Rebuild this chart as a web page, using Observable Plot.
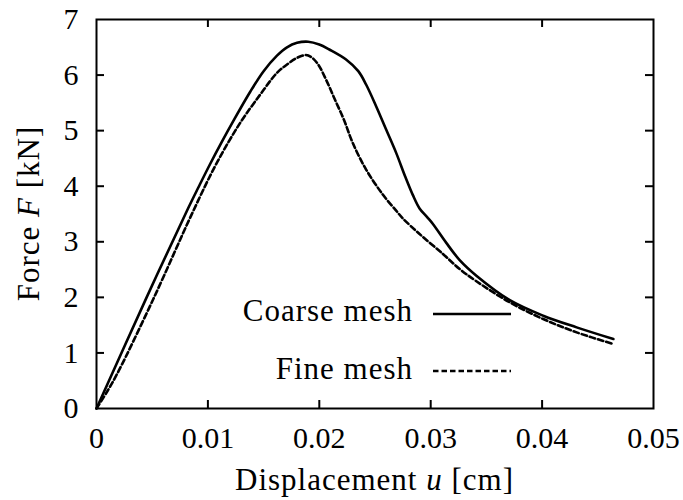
<!DOCTYPE html>
<html>
<head>
<meta charset="utf-8">
<script src="https://cdn.jsdelivr.net/npm/d3@7"></script>
<script src="https://cdn.jsdelivr.net/npm/@observablehq/plot@0.6"></script>
<style>
  body { margin: 0; background: #fff; }
  #chart { position: relative; width: 683px; height: 500px; }
</style>
</head>
<body>
<div id="chart"></div>
<script>
// ---- data ----
const xTicks = [0, 0.01, 0.02, 0.03, 0.04, 0.05];
const yTicks = [0, 1, 2, 3, 4, 5, 6, 7];
const seriesNames = ["Coarse mesh", "Fine mesh"];

const coarseU = [0, 0.0045, 0.0081, 0.0092, 0.0102, 0.0112, 0.0123, 0.0138, 0.0150, 0.0162, 0.0171, 0.0180, 0.0190, 0.0200, 0.0209, 0.0224, 0.0235, 0.0242, 0.0251, 0.0260, 0.0269, 0.0277, 0.0284, 0.0290, 0.0297, 0.0302, 0.0314, 0.0326, 0.0341, 0.0371, 0.0401, 0.0431, 0.0464];
const coarseF = [0, 2.00, 3.55, 4.00, 4.40, 4.78, 5.18, 5.70, 6.07, 6.35, 6.50, 6.58, 6.60, 6.55, 6.46, 6.28, 6.07, 5.83, 5.44, 5.02, 4.60, 4.18, 3.84, 3.60, 3.44, 3.32, 2.98, 2.67, 2.39, 1.95, 1.67, 1.46, 1.25];

const fineU = [0, 0.0010, 0.0020, 0.0051, 0.0087, 0.0108, 0.0129, 0.0147, 0.0162, 0.0171, 0.0180, 0.0188, 0.0193, 0.0199, 0.0206, 0.0214, 0.0222, 0.0230, 0.0242, 0.0257, 0.0269, 0.0275, 0.0290, 0.0311, 0.0326, 0.0341, 0.0371, 0.0401, 0.0431, 0.0464];
const fineF = [0, 0.32, 0.68, 1.97, 3.56, 4.42, 5.14, 5.65, 6.04, 6.19, 6.31, 6.36, 6.32, 6.19, 5.92, 5.56, 5.20, 4.78, 4.30, 3.85, 3.56, 3.42, 3.14, 2.78, 2.51, 2.29, 1.91, 1.61, 1.37, 1.16];

const coarse = coarseU.map((u, i) => ({u, F: coarseF[i]}));
const fine = fineU.map((u, i) => ({u, F: fineF[i]}));

// ---- layout ----
const W = 683, H = 500;
const mL = 96, mR = 30, mT = 19, mB = 92;
const pw = W - mL - mR, ph = H - mT - mB;
const tickLen = 8;
const font = "'Liberation Serif', 'Times New Roman', serif";

const fmtX = d => d === 0 ? "0" : d.toFixed(2);

const chart = Plot.plot({
  width: W,
  height: H,
  marginLeft: mL,
  marginRight: mR,
  marginTop: mT,
  marginBottom: mB,
  style: {fontFamily: font, fontSize: "30px", color: "#000", background: "#fff"},
  x: {domain: [0, 0.05]},
  y: {domain: [0, 7]},
  marks: [
    // inward ticks on all four sides
    Plot.ruleX(xTicks.slice(1, -1), {x: d => d, insetTop: ph - tickLen, stroke: "#000", strokeWidth: 2}),
    Plot.ruleX(xTicks.slice(1, -1), {x: d => d, insetBottom: ph - tickLen, stroke: "#000", strokeWidth: 2}),
    Plot.ruleY(yTicks.slice(1, -1), {y: d => d, insetRight: pw - tickLen, stroke: "#000", strokeWidth: 2}),
    Plot.ruleY(yTicks.slice(1, -1), {y: d => d, insetLeft: pw - tickLen, stroke: "#000", strokeWidth: 2}),
    Plot.axisX(xTicks, {tickSize: 0, tickPadding: 18, tickFormat: fmtX, fontSize: 30, label: null}),
    Plot.axisY(yTicks, {tickSize: 0, tickPadding: 18, tickFormat: d => String(d), fontSize: 30, label: null}),
    Plot.line(coarse, {x: "u", y: "F", stroke: "#000", strokeWidth: 2.6, curve: "catmull-rom"}),
    Plot.line(fine, {x: "u", y: "F", stroke: "#000", strokeWidth: 2.6, strokeDasharray: "5.5,3", curve: "catmull-rom"}),
    Plot.frame({stroke: "#000", strokeWidth: 2})
  ]
});

document.getElementById("chart").appendChild(chart);

// ---- axis labels with italic symbols and legend ----
const svg = d3.select(chart);
const cx = mL + pw / 2, cy = mT + ph / 2;
const labelSize = 31, labelSpacing = "1px";

const xl = svg.append("text")
  .attr("x", cx).attr("y", 490)
  .attr("text-anchor", "middle")
  .attr("font-family", font).attr("font-size", labelSize)
  .attr("letter-spacing", labelSpacing).attr("fill", "#000");
xl.append("tspan").text("Displacement ");
xl.append("tspan").attr("font-style", "italic").text("u");
xl.append("tspan").text(" [cm]");

const yl = svg.append("text")
  .attr("transform", `translate(39,${cy}) rotate(-90)`)
  .attr("text-anchor", "middle")
  .attr("font-family", font).attr("font-size", labelSize)
  .attr("letter-spacing", labelSpacing).attr("fill", "#000");
yl.append("tspan").text("Force ");
yl.append("tspan").attr("font-style", "italic").text("F");
yl.append("tspan").text(" [kN]");

const legend = svg.append("g");
const legendRows = [
  {name: seriesNames[0], dash: null, width: 2.6, ty: 321, ly: 314},
  {name: seriesNames[1], dash: "5.5,3", width: 2.6, ty: 379, ly: 371}
];
legendRows.forEach(r => {
  legend.append("text")
    .attr("x", 413).attr("y", r.ty)
    .attr("text-anchor", "end")
    .attr("font-family", font).attr("font-size", labelSize)
    .attr("letter-spacing", labelSpacing).attr("fill", "#000")
    .text(r.name);
  legend.append("line")
    .attr("x1", 433).attr("x2", 511)
    .attr("y1", r.ly).attr("y2", r.ly)
    .attr("stroke", "#000").attr("stroke-width", r.width)
    .attr("stroke-dasharray", r.dash);
});
</script>
</body>
</html>
